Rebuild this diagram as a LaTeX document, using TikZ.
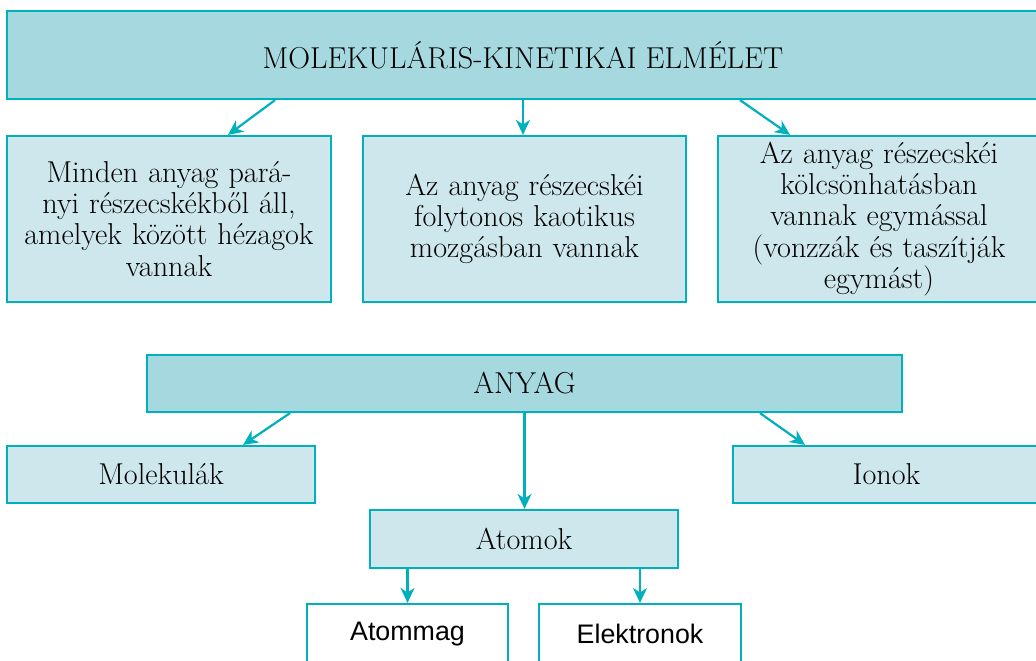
\documentclass[tikz,border=0pt]{standalone}
\usepackage{fontspec}
\setsansfont{Liberation Sans}
\usetikzlibrary{arrows.meta}
\definecolor{keret}{RGB}{0,176,188}
\definecolor{sotet}{RGB}{166,216,223}
\definecolor{vilagos}{RGB}{205,231,236}
\tikzset{
	doboz/.style={draw=keret, line width=1.1pt, inner sep=1pt, align=center,
		font=\fontsize{15.1}{15.6}\selectfont},
	fodoboz/.style={doboz, fill=sotet},
	aldoboz/.style={doboz, fill=vilagos},
	alapdoboz/.style={doboz, fill=white, font=\sffamily\fontsize{13.4}{15}\selectfont},
	nyil/.style={->, color=keret, line width=1.1pt}
}
\begin{document}
\begin{tikzpicture}[x=0.5pt, y=-0.5pt, >={Stealth[length=7.5pt,width=7pt,inset=2.3pt]}]
		\clip (0,0) rectangle (1036,660);
		% elmelet
		\node[fodoboz, minimum width=516pt, minimum height=44pt] (elmelet) at (523,55) {MOLEKULÁRIS-KINETIKAI ELMÉLET};
		\node[aldoboz, text width=159pt, minimum width=162pt, minimum height=83pt] (reszek) at (169,219)
			{Minden anyag pará-\\nyi részecskékből áll,\\amelyek között hézagok\\vannak};
		\node[aldoboz, text width=159pt, minimum width=161.5pt, minimum height=83pt] (mozgas) at (524.5,219)
			{Az anyag részecskéi\\folytonos kaotikus\\mozgásban vannak};
		\node[aldoboz, text width=159pt, minimum width=161pt, minimum height=83pt] (kolcson) at (879,219)
			{Az anyag részecskéi\\kölcsönhatásban\\vannak egymással\\(vonzzák és taszítják\\egymást)};
		\draw[nyil] ([xshift=-124pt]elmelet.south) -- ([xshift=29.5pt]reszek.north);
		\draw[nyil] (elmelet.south) -- (elmelet.south |- mozgas.north);
		\draw[nyil] ([xshift=108.5pt]elmelet.south) -- ([xshift=-44.5pt]kolcson.north);
		% anyag
		\node[fodoboz, minimum width=377.5pt, minimum height=28.5pt] (anyag) at (524.5,383.5) {ANYAG};
		\node[aldoboz, minimum width=154pt, minimum height=28.5pt] (molekulak) at (161,474.5) {Molekulák};
		\node[aldoboz, minimum width=153.5pt, minimum height=28.5pt] (ionok) at (886.5,474.5) {Ionok};
		\node[aldoboz, minimum width=154pt, minimum height=29pt] (atomok) at (524,539) {Atomok};
		\node[alapdoboz, minimum width=100.5pt, minimum height=30pt] (atommag) at (407.5,634) {Atommag};
		\node[alapdoboz, minimum width=101pt, minimum height=30pt] (elektronok) at (640,634) {Elektronok};
		\draw[nyil] ([xshift=-117.25pt]anyag.south) -- ([xshift=41pt]molekulak.north);
		\draw[nyil] (anyag.south) -- (anyag.south |- atomok.north);
		\draw[nyil] ([xshift=117.75pt]anyag.south) -- ([xshift=-40.75pt]ionok.north);
		\draw[nyil] (atommag.north |- atomok.south) -- (atommag.north);
		\draw[nyil] (elektronok.north |- atomok.south) -- (elektronok.north);
	\end{tikzpicture}
\end{document}
